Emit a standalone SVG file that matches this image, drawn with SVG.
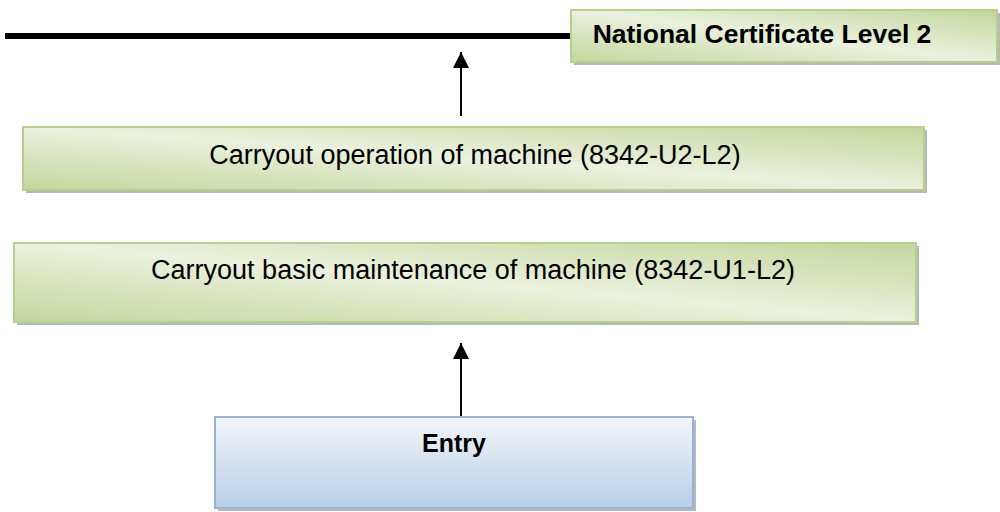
<svg xmlns="http://www.w3.org/2000/svg" width="1000" height="512" viewBox="0 0 1000 512">
  <defs>
    <linearGradient id="gGreen" x1="0" y1="1" x2="1" y2="0">
      <stop offset="0" stop-color="#c3d69b"/>
      <stop offset="0.5" stop-color="#ebf1de"/>
      <stop offset="1" stop-color="#c3d69b"/>
    </linearGradient>
    <linearGradient id="gBlue" x1="0" y1="0" x2="0" y2="1">
      <stop offset="0" stop-color="#f3f6fb"/>
      <stop offset="1" stop-color="#b9cde5"/>
    </linearGradient>
    <marker id="arrow" viewBox="0 0 16 16" refX="16" refY="8" markerWidth="16" markerHeight="16" markerUnits="userSpaceOnUse" orient="auto">
      <path d="M0,0 L16,8 L0,16 Z" fill="#000"/>
    </marker>
  </defs>
  <style>
    .shadow { fill: #9a9a9a; opacity: 0.7; }
    .green { fill: url(#gGreen); stroke: #b7cf8c; stroke-width: 2; }
    .blue { fill: url(#gBlue); stroke: #95b3d7; stroke-width: 2; }
    .txt { font-family: "Liberation Sans", Arial, sans-serif; font-size: 27px; fill: #000; text-anchor: middle; }
    .bold { font-weight: bold; }
    .conn { stroke: #000; stroke-width: 2; fill: none; }
  </style>

  <g id="connectors">
    <line x1="5" y1="36" x2="572" y2="36" stroke="#000" stroke-width="6"/>
    <line class="conn" x1="461" y1="116" x2="461" y2="52" marker-end="url(#arrow)"/>
    <line class="conn" x1="461" y1="416" x2="461" y2="343" marker-end="url(#arrow)"/>
  </g>

  <g id="node-national">
    <rect class="shadow" x="574" y="13" width="426" height="52"/>
    <rect class="green" x="571" y="10" width="426" height="52"/>
    <text class="txt bold" x="762" y="43" style="font-size:26.5px">National Certificate Level 2</text>
  </g>

  <g id="node-operation">
    <rect class="shadow" x="26" y="130" width="901" height="63"/>
    <rect class="green" x="23" y="127" width="901" height="63"/>
    <text class="txt" x="475" y="164">Carryout operation of machine (8342-U2-L2)</text>
  </g>

  <g id="node-maintenance">
    <rect class="shadow" x="17" y="246" width="902" height="79"/>
    <rect class="green" x="14" y="243" width="902" height="79"/>
    <text class="txt" x="473" y="279">Carryout basic maintenance of machine (8342-U1-L2)</text>
  </g>

  <g id="node-entry">
    <rect class="shadow" x="218" y="420" width="478" height="91"/>
    <rect class="blue" x="215" y="417" width="478" height="91"/>
    <text class="txt bold" x="454" y="452" style="font-size:25px">Entry</text>
  </g>
</svg>
